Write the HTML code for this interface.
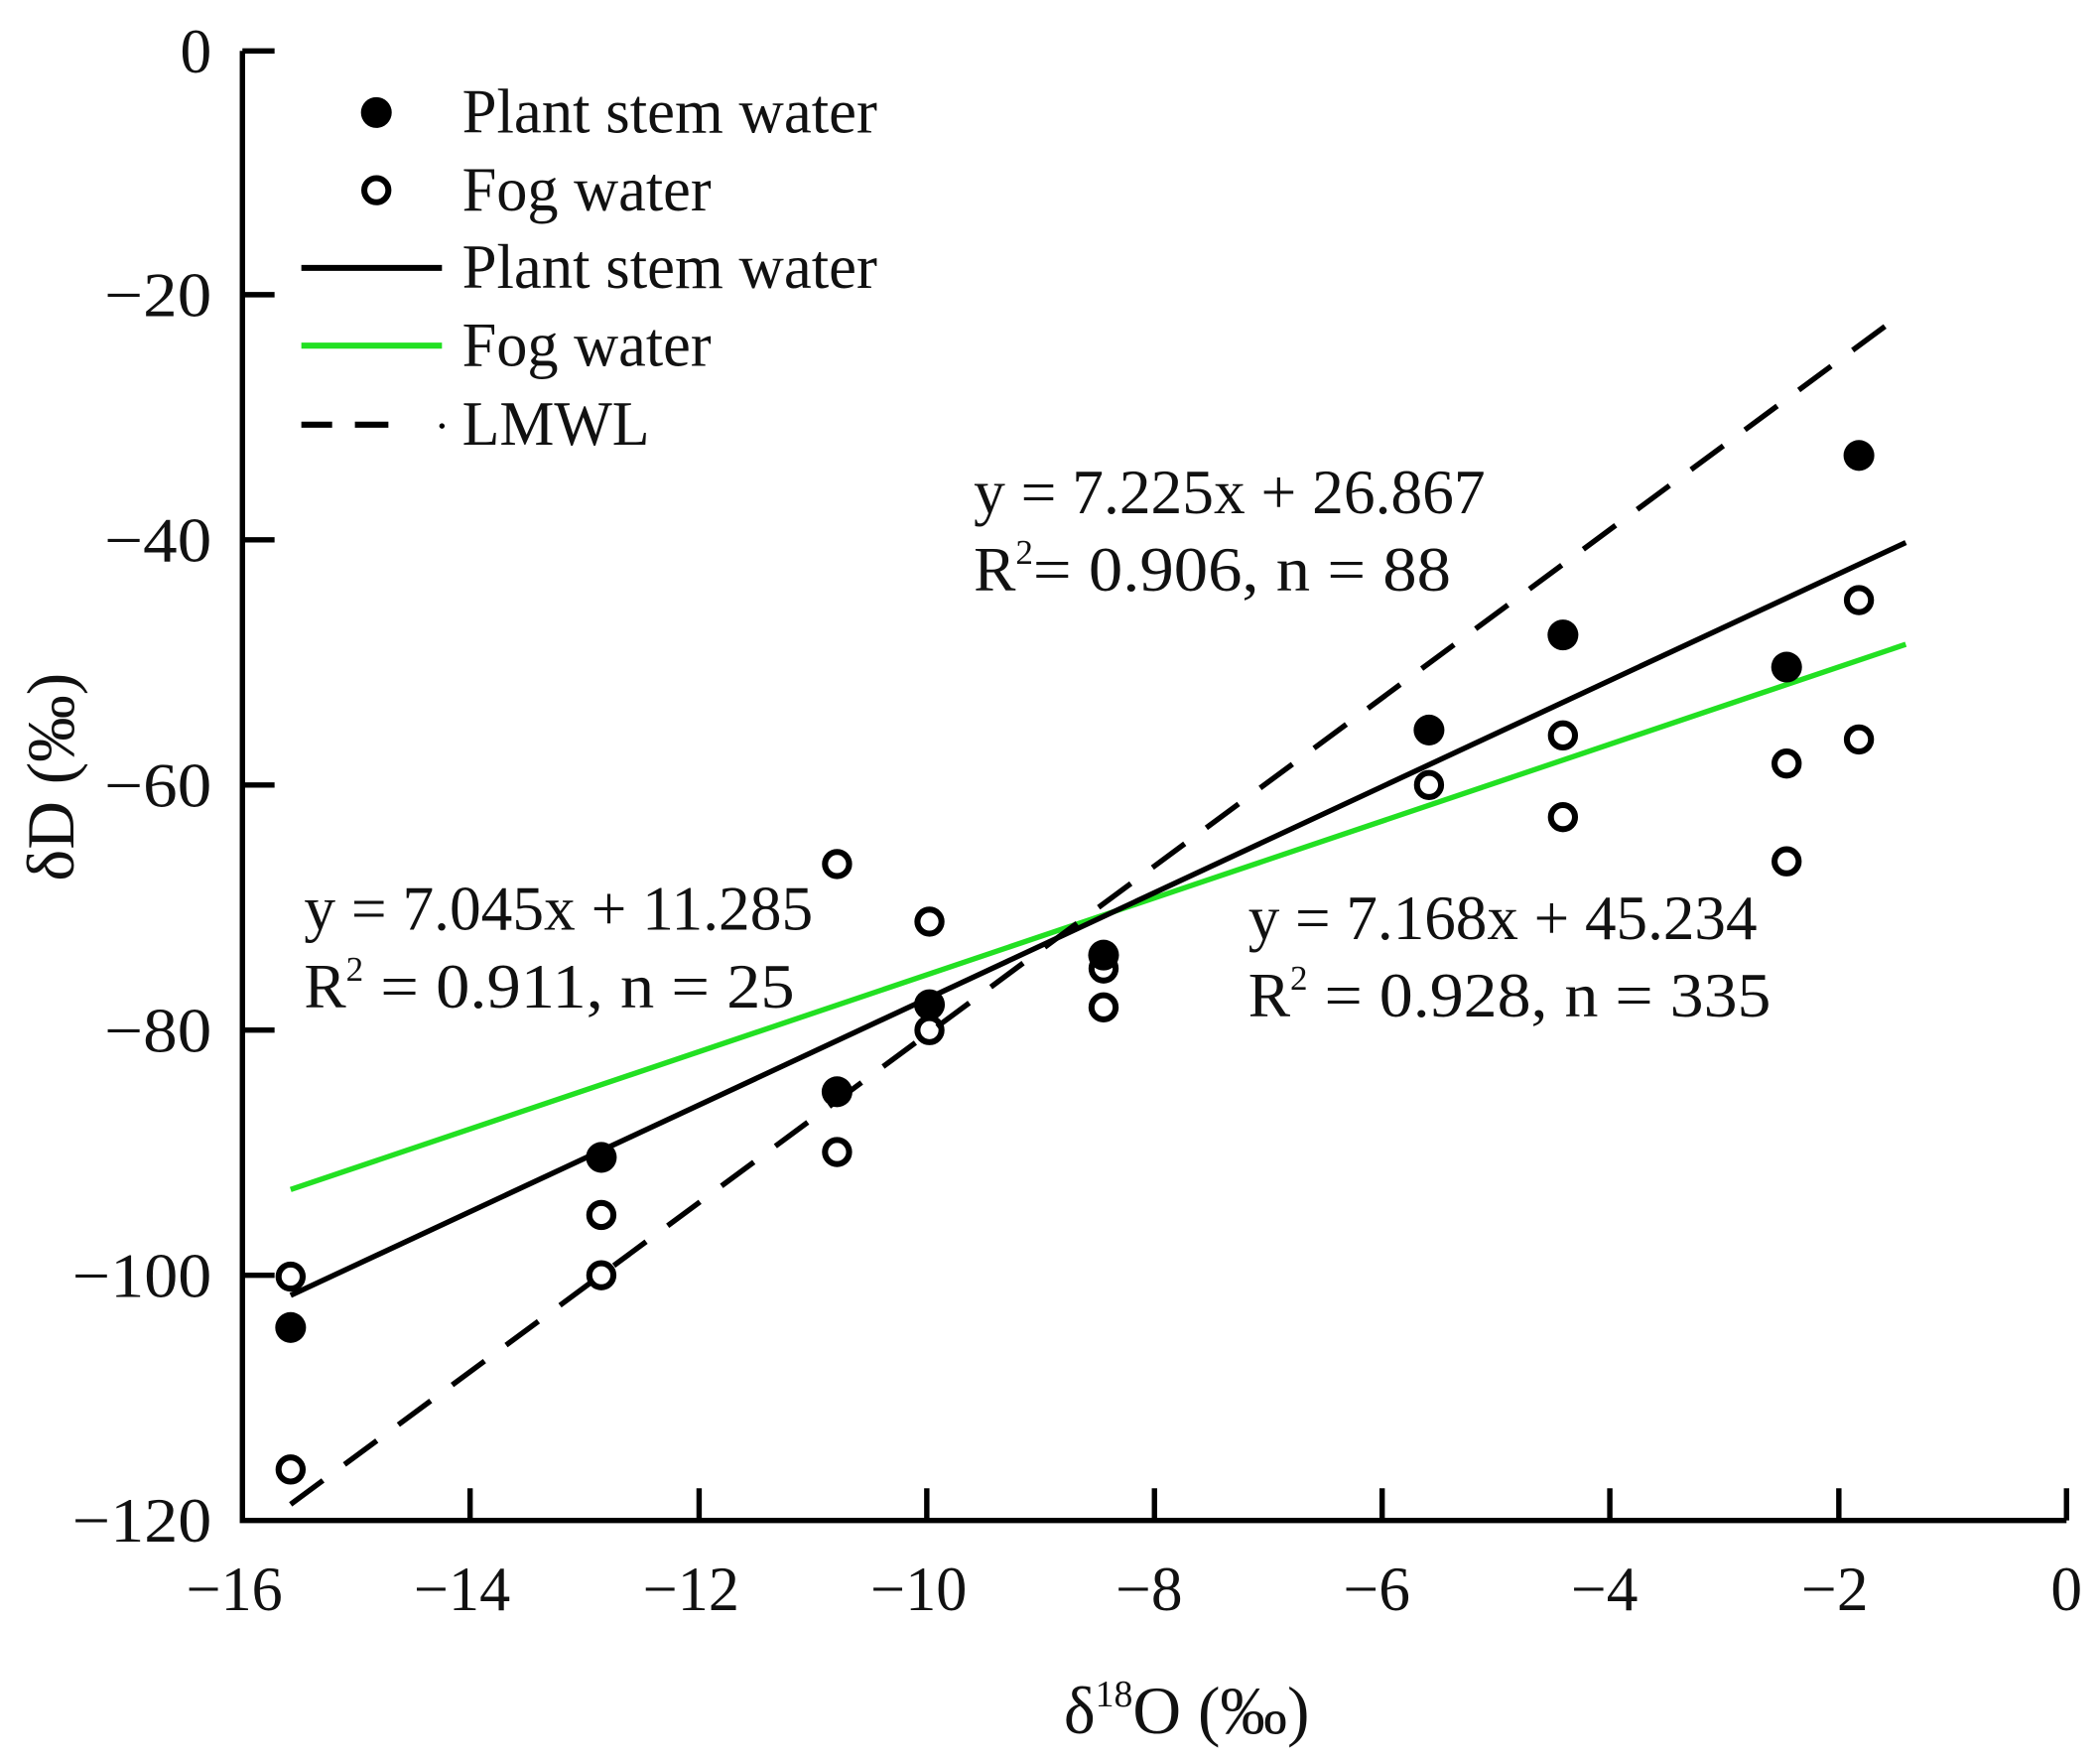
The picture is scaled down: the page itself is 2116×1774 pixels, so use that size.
<!DOCTYPE html>
<html><head><meta charset="utf-8"><style>
html,body{margin:0;padding:0;background:#fff;}
svg{display:block;}
text{font-family:"Liberation Serif",serif;fill:#111;}
</style></head><body>
<svg width="2116" height="1774" viewBox="0 0 1568 1314.6" preserveAspectRatio="none" xmlns="http://www.w3.org/2000/svg">
<rect width="1568" height="1315" fill="#fff"/>
<g stroke="#000" stroke-width="4" fill="none">
<path d="M181,38 V1135 H1543"/>
<path d="M181,38 H205 M181,220 H205 M181,403 H205 M181,586 H205 M181,769 H205 M181,952 H205"/>
<path d="M351,1135 V1111 M522,1135 V1111 M692,1135 V1111 M862,1135 V1111 M1032,1135 V1111 M1202,1135 V1111 M1373,1135 V1111 M1543,1135 V1111"/>
</g>
<g font-size="47" text-anchor="end">
<text x="158" y="54">0</text>
<text x="158" y="236" textLength="80" lengthAdjust="spacingAndGlyphs">−20</text>
<text x="158" y="419" textLength="80" lengthAdjust="spacingAndGlyphs">−40</text>
<text x="158" y="602" textLength="80" lengthAdjust="spacingAndGlyphs">−60</text>
<text x="158" y="785" textLength="80" lengthAdjust="spacingAndGlyphs">−80</text>
<text x="158" y="968" textLength="104" lengthAdjust="spacingAndGlyphs">−100</text>
<text x="158" y="1151" textLength="104" lengthAdjust="spacingAndGlyphs">−120</text>
</g>
<g font-size="47" text-anchor="middle">
<text x="175" y="1202" textLength="72" lengthAdjust="spacingAndGlyphs">−16</text>
<text x="345" y="1202" textLength="72" lengthAdjust="spacingAndGlyphs">−14</text>
<text x="516" y="1202" textLength="72" lengthAdjust="spacingAndGlyphs">−12</text>
<text x="686" y="1202" textLength="72" lengthAdjust="spacingAndGlyphs">−10</text>
<text x="858" y="1202" textLength="50" lengthAdjust="spacingAndGlyphs">−8</text>
<text x="1028" y="1202" textLength="50" lengthAdjust="spacingAndGlyphs">−6</text>
<text x="1198" y="1202" textLength="50" lengthAdjust="spacingAndGlyphs">−4</text>
<text x="1370" y="1202" textLength="50" lengthAdjust="spacingAndGlyphs">−2</text>
<text x="1543" y="1202">0</text>
</g>
<text x="886" y="1294" font-size="50" text-anchor="middle">δ<tspan font-size="28" dy="-20">18</tspan><tspan dy="20">O (‰)</tspan></text>
<text transform="translate(55,580) rotate(-90)" font-size="50" text-anchor="middle">δD (‰)</text>
<line x1="217" y1="888" x2="1423" y2="481" stroke="#22e022" stroke-width="4"/>
<line x1="217" y1="967" x2="1423" y2="405" stroke="#000" stroke-width="4"/>
<line x1="217" y1="1123" x2="1411" y2="241" stroke="#000" stroke-width="4" stroke-dasharray="30,20"/>
<g fill="#000">
<circle cx="217" cy="991" r="11.5"/><circle cx="449" cy="864" r="11.5"/><circle cx="625" cy="815" r="11.5"/>
<circle cx="694" cy="750" r="11.5"/><circle cx="824" cy="713" r="11.5"/><circle cx="1067" cy="545" r="11.5"/>
<circle cx="1167" cy="474" r="11.5"/><circle cx="1334" cy="498" r="11.5"/><circle cx="1388" cy="340" r="11.5"/>
</g>
<g fill="none" stroke="#000" stroke-width="4.5">
<circle cx="217" cy="953" r="9"/><circle cx="217" cy="1097" r="9"/><circle cx="449" cy="907" r="9"/>
<circle cx="449" cy="952" r="9"/><circle cx="625" cy="645" r="9"/><circle cx="625" cy="860" r="9"/>
<circle cx="694" cy="688" r="9"/><circle cx="694" cy="769" r="9"/><circle cx="824" cy="723" r="9"/>
<circle cx="824" cy="752" r="9"/><circle cx="1067" cy="586" r="9"/><circle cx="1167" cy="549" r="9"/>
<circle cx="1167" cy="610" r="9"/><circle cx="1334" cy="570" r="9"/><circle cx="1334" cy="643" r="9"/>
<circle cx="1388" cy="448" r="9"/><circle cx="1388" cy="552" r="9"/>
</g>
<circle cx="281" cy="84" r="11.5" fill="#000"/>
<circle cx="281" cy="142" r="9" fill="none" stroke="#000" stroke-width="4.5"/>
<line x1="225" y1="200" x2="330" y2="200" stroke="#000" stroke-width="4.5"/>
<line x1="225" y1="258" x2="330" y2="258" stroke="#22e022" stroke-width="4.5"/>
<path d="M225,317 H248 M265,317 H290" stroke="#000" stroke-width="4.5"/>
<circle cx="330" cy="318" r="2" fill="#000"/>
<g font-size="47">
<text x="345" y="99" textLength="310" lengthAdjust="spacingAndGlyphs">Plant stem water</text>
<text x="345" y="157" textLength="186" lengthAdjust="spacingAndGlyphs">Fog water</text>
<text x="345" y="215" textLength="310" lengthAdjust="spacingAndGlyphs">Plant stem water</text>
<text x="345" y="273" textLength="186" lengthAdjust="spacingAndGlyphs">Fog water</text>
<text x="345" y="332" textLength="140" lengthAdjust="spacingAndGlyphs">LMWL</text>
</g>
<g font-size="47">
<text x="727" y="383" textLength="382" lengthAdjust="spacingAndGlyphs">y = 7.225x + 26.867</text>
<text x="727" y="441">R<tspan font-size="26" dy="-20">2</tspan><tspan dy="20" textLength="312" lengthAdjust="spacingAndGlyphs">= 0.906,  n = 88</tspan></text>
<text x="227" y="694" textLength="380" lengthAdjust="spacingAndGlyphs">y = 7.045x + 11.285</text>
<text x="227" y="752">R<tspan font-size="26" dy="-20">2</tspan><tspan dy="20" textLength="322" lengthAdjust="spacingAndGlyphs"> = 0.911,  n = 25</tspan></text>
<text x="932" y="701" textLength="380" lengthAdjust="spacingAndGlyphs">y = 7.168x + 45.234</text>
<text x="932" y="759">R<tspan font-size="26" dy="-20">2</tspan><tspan dy="20" textLength="346" lengthAdjust="spacingAndGlyphs"> = 0.928,  n = 335</tspan></text>
</g>
</svg>
</body></html>
